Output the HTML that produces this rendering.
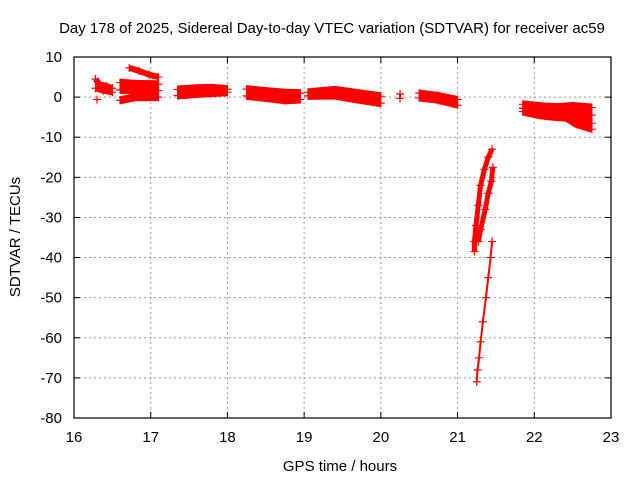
<!DOCTYPE html>
<html><head><meta charset="utf-8"><style>
body{margin:0;background:#fff;}
svg{display:block;font-family:"Liberation Sans",sans-serif;}
</style></head><body>
<svg id="chart" width="640" height="480">
<text x="332" y="33" font-size="15" text-anchor="middle">Day 178 of 2025, Sidereal Day-to-day VTEC variation (SDTVAR) for receiver ac59</text>
<text x="340" y="471" font-size="15" text-anchor="middle">GPS time / hours</text>
<text transform="translate(20,237) rotate(-90)" font-size="15" text-anchor="middle">SDTVAR / TECUs</text>
<g id="grid"></g><g id="marks"></g>
<rect x="74" y="57" width="537" height="361" fill="none" stroke="#000" stroke-width="1.2"/>
</svg>
<script>
const xTicks=[16,17,18,19,20,21,22,23];
const yTicks=[10,0,-10,-20,-30,-40,-50,-60,-70,-80];
// tracks of [hour, SDTVAR]
const trackA=[[16.28,4.5],[16.33,3.2],[16.42,2.8],[16.5,2.2]];
const trackB=[[16.28,2.2],[16.38,1.6],[16.5,1.2]];
const trackC=[[16.3,-0.6]];
const trackD=[[16.72,7.3],[16.85,6.5],[16.98,5.6],[17.1,5]];
const trackE=[[16.6,3.6],[16.8,3.3],[17.1,3.2]];
const trackF=[[16.6,1.8],[16.85,1.7],[17.1,1.6]];
const trackG=[[16.6,-0.8],[16.8,0],[17.1,0]];
const trackH=[[17.35,1.9],[17.6,2.2],[17.8,2.3],[18.0,2.0]];
const trackI=[[17.35,0.4],[17.6,0.8],[17.8,1.0],[18.0,1.2]];
const trackJ=[[18.25,2.0],[18.5,1.5],[18.75,1.1],[18.95,1.0]];
const trackK=[[18.25,0.3],[18.5,-0.2],[18.75,-0.8],[18.95,-0.6]];
const trackL=[[19.05,1.2],[19.4,1.8],[19.7,1.0],[20.0,0.2]];
const trackM=[[19.05,0.3],[19.4,0.4],[19.7,-0.6],[20.0,-1.5]];
const trackN=[[20.25,0.8],[20.25,-0.3]];
const trackO=[[20.5,1.0],[20.75,0.4],[21.0,-0.6]];
const trackP=[[20.5,-0.2],[20.75,-0.8],[21.0,-2.0]];
const trackQ=[[21.85,-1.8],[22.1,-2.3],[22.3,-2.5],[22.5,-2.2],[22.75,-2.6]];
const trackQ2=[[21.85,-2.8],[22.1,-3.5],[22.3,-3.8],[22.5,-3.8],[22.75,-4.5]];
const trackR=[[21.85,-3.6],[22.1,-4.6],[22.3,-5.0],[22.5,-5.2],[22.75,-6.5]];
const trackS=[[22.4,-5],[22.55,-6.8],[22.75,-8.0]];
const trackT=[[21.45,-13],[21.4,-15],[21.35,-18],[21.3,-22],[21.27,-27],[21.24,-32],[21.22,-36],[21.22,-38.5]];
const trackU=[[21.46,-17.5],[21.44,-21],[21.4,-24],[21.36,-28],[21.3,-33],[21.27,-36]];
const trackV=[[21.45,-36],[21.43,-40],[21.4,-45],[21.37,-50],[21.33,-56],[21.3,-61],[21.28,-65],[21.26,-68],[21.25,-71]];
const bands=[[trackA,6],[trackB,6],[trackC,2],[trackD,6],[trackE,8],[trackF,8],[trackG,8],[trackH,8],[trackI,8],[trackJ,8],[trackK,8],[trackL,8],[trackM,8],[trackN,2],[trackO,7],[trackP,7],[trackQ,8],[trackQ2,8],[trackR,8],[trackS,7],[trackT,5],[trackU,5],[trackV,2]];
const X=h=>74+(h-16)*537/7, Y=v=>57+(10-v)*361/90;
const NS='http://www.w3.org/2000/svg';
const grid=document.getElementById('grid'), marks=document.getElementById('marks');
function mk(tag,attrs,parent){const e=document.createElementNS(NS,tag);for(const k in attrs)e.setAttribute(k,attrs[k]);parent.appendChild(e);return e;}
xTicks.forEach(t=>{const x=X(t);
 if(t>16&&t<23){const l=mk('line',{x1:x,x2:x,y1:57,y2:418,stroke:'#999','stroke-dasharray':'2,3'},grid);
 
 }
 mk('line',{x1:x,x2:x,y1:418,y2:412,stroke:'#000'},grid);mk('line',{x1:x,x2:x,y1:57,y2:63,stroke:'#000'},grid);
 const tx=mk('text',{x:x,y:442,'font-size':15,'text-anchor':'middle'},grid);tx.textContent=t;
 
 });
yTicks.forEach(t=>{const y=Y(t);
 if(t<10&&t>-80){const l=mk('line',{x1:74,x2:611,y1:y,y2:y,stroke:'#999','stroke-dasharray':'2,3'},grid);
 
 }
 mk('line',{x1:74,x2:80,y1:y,y2:y,stroke:'#000'},grid);mk('line',{x1:611,x2:605,y1:y,y2:y,stroke:'#000'},grid);
 const tx=mk('text',{x:62,y:y+5,'font-size':15,'text-anchor':'end'},grid);tx.textContent=t;
 
 });
bands.forEach(([tr,w])=>{
 if(tr.length>1){const p=mk('polyline',{points:tr.map(d=>X(d[0])+','+Y(d[1])).join(' '),fill:'none',stroke:'#f00','stroke-width':w,'stroke-linejoin':'round'},marks);
 
 }
 tr.forEach(d=>{const x=X(d[0]),y=Y(d[1]);
  const m=mk('path',{d:`M${x-4},${y}H${x+4}M${x},${y-4}V${y+4}`,stroke:'#f00','stroke-width':1.2},marks);
  
  });
});
</script>
</body></html>
